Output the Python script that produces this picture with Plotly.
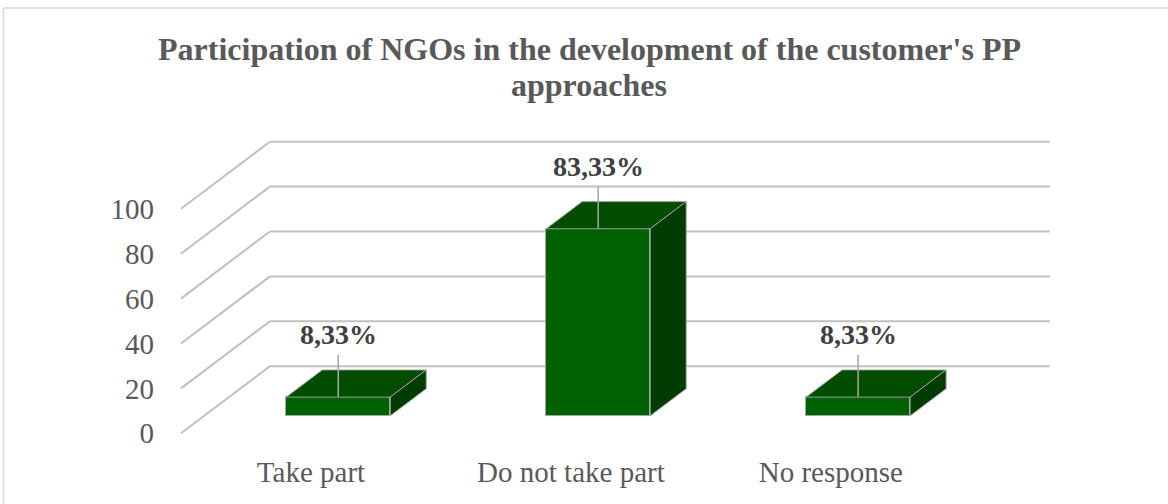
import plotly.graph_objects as go

# ---------------- data ----------------
categories = ["Take part", "Do not take part", "No response"]
values = [8.33, 83.33, 8.33]
value_labels = ["8,33%", "83,33%", "8,33%"]
y_ticks = [0, 20, 40, 60, 80, 100]
title_lines = ["Participation of NGOs in the development of the customer's PP", "approaches"]

# ---------------- 3-D projection style (axis units) ----------------
DEPTH_X = 0.342      # full floor depth, horizontal shift in category units
DEPTH_Y = 29.9       # full floor depth, vertical shift in value units
F0, F1 = 0.26, 0.665 # bar front / back depth fractions
BAR_SHIFT = 0.016    # small extra horizontal offset of bars
BAR_W = 0.4
LABEL_OFF = 27.8
LEADER_OFF = 18.8

FRONT = "#006100"
TOP = "#004d00"
SIDE = "#003c00"
EDGE = "rgba(165,165,165,0.9)"
GRID = "#c0c0c0"
FONT = "Liberation Serif"

W, H = 1168, 504
L, R, T, B = 168, 110.8, 137.32, 64.28
PW, PH = W - L - R, H - T - B


def px_x(p):
    return (p - L) / PW


def px_y(p):
    return (H - B - p) / PH


fig = go.Figure()

x_left = -0.5
x_right = len(categories) - 0.5

# wall / floor gridlines (below the bars): side-wall diagonals + back-wall horizontals
for v in y_ticks:
    fig.add_shape(type="line", xref="x", yref="y", layer="below",
                  x0=x_left, y0=v, x1=x_left + DEPTH_X, y1=v + DEPTH_Y,
                  line=dict(color=GRID, width=2))
    fig.add_shape(type="line", xref="x", yref="y", layer="below",
                  x0=x_left + DEPTH_X, y0=v + DEPTH_Y,
                  x1=x_right + DEPTH_X, y1=v + DEPTH_Y,
                  line=dict(color=GRID, width=2))

ddx = (F1 - F0) * DEPTH_X
ddy = (F1 - F0) * DEPTH_Y
fx = [i + F0 * DEPTH_X + BAR_SHIFT for i in range(len(categories))]
fb = F0 * DEPTH_Y

# front faces
fig.add_trace(go.Bar(
    x=fx, y=values, base=[fb] * len(values), width=BAR_W,
    marker=dict(color=FRONT, line=dict(color=EDGE, width=1)),
    hoverinfo="skip", showlegend=False))

for i, v in enumerate(values):
    xl = fx[i] - BAR_W / 2
    xr = fx[i] + BAR_W / 2
    yt = fb + v
    # top face
    fig.add_trace(go.Scatter(
        x=[xl, xr, xr + ddx, xl + ddx, xl],
        y=[yt, yt, yt + ddy, yt + ddy, yt],
        mode="lines", fill="toself", fillcolor=TOP,
        line=dict(color=EDGE, width=1),
        hoverinfo="skip", showlegend=False))
    # side face
    fig.add_trace(go.Scatter(
        x=[xr, xr, xr + ddx, xr + ddx, xr],
        y=[fb, yt, yt + ddy, fb + ddy, fb],
        mode="lines", fill="toself", fillcolor=SIDE,
        line=dict(color=EDGE, width=1),
        hoverinfo="skip", showlegend=False))
    # leader line
    fig.add_trace(go.Scatter(
        x=[fx[i], fx[i]], y=[yt, yt + LEADER_OFF],
        mode="lines", line=dict(color="#a6a6a6", width=1.5),
        hoverinfo="skip", showlegend=False))
    fig.add_annotation(
        x=fx[i], y=yt + LABEL_OFF, xref="x", yref="y",
        text="<b>%s</b>" % value_labels[i], showarrow=False,
        xanchor="center", yanchor="middle",
        font=dict(family=FONT, size=28, color="#404040"))

# title (two lines)
fig.add_annotation(x=px_x(590), y=px_y(49), xref="paper", yref="paper",
                   text="<b>%s</b>" % title_lines[0], showarrow=False,
                   xanchor="center", yanchor="middle",
                   font=dict(family=FONT, size=32, color="#595959"))
fig.add_annotation(x=px_x(589), y=px_y(85), xref="paper", yref="paper",
                   text="<b>%s</b>" % title_lines[1], showarrow=False,
                   xanchor="center", yanchor="middle",
                   font=dict(family=FONT, size=32, color="#595959"))

# chart border
fig.add_shape(type="rect", xref="paper", yref="paper",
              x0=px_x(3.5), x1=px_x(1180), y0=px_y(8.5), y1=px_y(520),
              line=dict(color="#d9d9d9", width=1.5), fillcolor="rgba(0,0,0,0)",
              layer="below")

fig.update_layout(
    width=W, height=H,
    margin=dict(l=L, r=R, t=T, b=B, autoexpand=False),
    paper_bgcolor="white", plot_bgcolor="white",
    showlegend=False, hovermode=False,
    bargap=0,
    xaxis=dict(range=[-0.55, 2.87], tickmode="array",
               tickvals=list(range(len(categories))), ticktext=categories,
               showgrid=False, zeroline=False, showline=False, ticks="",
               ticklabelstandoff=12,
               tickfont=dict(family=FONT, size=29, color="#595959"),
               fixedrange=True),
    yaxis=dict(range=[-3, 132], tickmode="array", tickvals=y_ticks,
               showgrid=False, zeroline=False, showline=False, ticks="",
               ticklabelstandoff=13,
               tickfont=dict(family=FONT, size=29, color="#595959"),
               fixedrange=True),
)

fig.write_html("out.html", config={"displayModeBar": False},
               post_script="document.body.style.margin='0px';")
